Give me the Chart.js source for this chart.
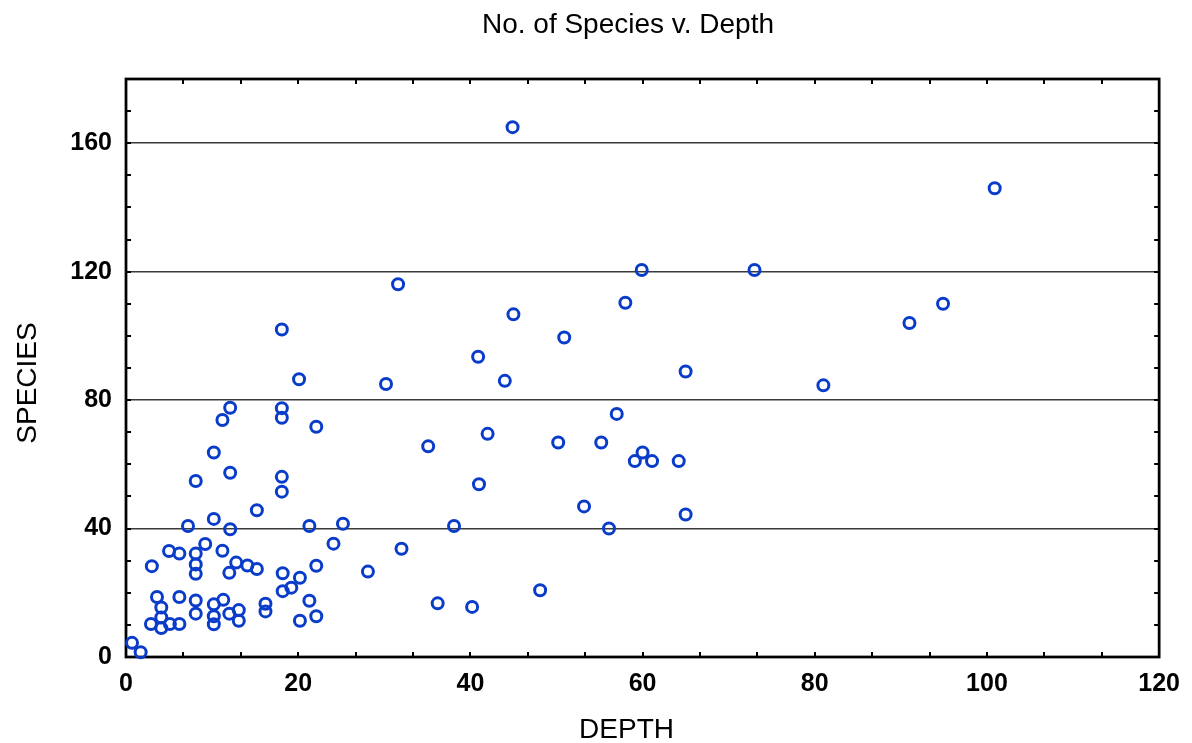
<!DOCTYPE html>
<html>
<head>
<meta charset="utf-8">
<script src="https://cdn.jsdelivr.net/npm/chart.js@4.4.0/dist/chart.umd.min.js"></script>
<style>
  html, body { margin: 0; padding: 0; background: #ffffff; }
  #wrap { width: 1192px; height: 743px; }
</style>
</head>
<body>
<div id="wrap"><canvas id="c" width="1192" height="743"></canvas></div>
<script>
// ---- Data ----
const depth = [
  0.7, 1.7,
  2.9, 4.1, 4.1, 5.1, 6.2,
  3.6, 4.1, 6.2,
  3.0,
  5.0, 6.2, 8.1, 9.2, 8.1, 8.1,
  8.1, 8.1,
  10.2, 10.2, 10.2, 11.3, 12.0, 13.1, 13.1,
  11.2, 12.8, 12.0, 14.1, 15.2,
  16.2, 16.2,
  18.2, 19.2, 20.2, 18.2, 21.3, 20.2, 22.1, 22.1,
  24.1, 25.2, 21.3, 15.2, 10.2, 12.1, 7.2,
  8.1, 12.1, 10.2, 18.1, 18.1,
  11.2, 12.1, 18.1, 18.1, 22.1,
  18.1, 20.1,
  28.1, 32.0, 38.1, 36.2, 40.2, 48.1,
  30.2, 31.6, 35.1, 41.0, 42.0, 40.9, 44.0,
  44.9, 45.0, 50.9, 50.2, 53.2, 55.2, 56.1, 57.0, 58.0,
  59.1, 60.0, 61.1, 64.2, 65.0, 65.0, 59.9, 73.0,
  81.0, 91.0, 94.9, 100.9
];
const species = [
  4.4, 1.5,
  10.3, 9.0, 12.3, 10.3, 10.3,
  18.7, 15.4, 18.7,
  28.3,
  33.0, 32.2, 32.2, 35.2, 28.8, 25.9,
  17.6, 13.5,
  16.4, 12.7, 10.2, 17.8, 13.5, 14.6, 11.3,
  33.1, 29.4, 26.2, 28.5, 27.4,
  16.6, 14.2,
  20.5, 21.6, 24.7, 26.1, 17.5, 11.3, 12.7, 28.4,
  35.3, 41.5, 40.8, 45.7, 43.0, 39.8, 40.8,
  54.8, 57.4, 63.7, 56.1, 51.5,
  73.8, 77.6, 77.5, 74.5, 71.7,
  102, 86.5,
  26.6, 33.7, 40.8, 16.7, 15.6, 20.8,
  85, 116.1, 65.6, 53.8, 69.5, 93.5, 86,
  165, 106.7, 99.5, 66.8, 46.9, 66.8, 40, 75.7, 110.3,
  61, 63.7, 61, 61, 88.9, 44.4, 120.5, 120.5,
  84.6, 104, 110, 146
];
const xTickValues = [0, 20, 40, 60, 80, 100, 120];
const yTickValues = [0, 40, 80, 120, 160];
const xMinorStep = 20 / 3;
const yMinorStep = 10;

const titleText = 'No. of Species v. Depth';
const xTitle = 'DEPTH';
const yTitle = 'SPECIES';

const points = depth.map((d, i) => ({ x: d, y: species[i] }));
const FONT = "'Liberation Sans', Arial, Helvetica, sans-serif";

// Frame, inward minor ticks, and title centring like the original graph window
const framePlugin = {
  id: 'frame',
  afterLayout(chart) {
    if (chart.titleBlock) { chart.titleBlock.left = 96; chart.titleBlock.right = 1160; }
    const xs = chart.scales.x, ys = chart.scales.y;
    if (!xs._shifted) {
      const ox = xs.drawTitle;
      xs.drawTitle = function () { const c = this.ctx; c.save(); c.translate(-16, 0); ox.apply(this, arguments); c.restore(); };
      xs._shifted = true;
    }
    if (!ys._shifted) {
      const oy = ys.drawTitle;
      ys.drawTitle = function () { const c = this.ctx; c.save(); c.translate(0, 15); oy.apply(this, arguments); c.restore(); };
      ys._shifted = true;
    }
  },
  beforeDatasetsDraw(chart) {
    const { ctx, chartArea: a, scales } = chart;
    const xs = scales.x, ys = scales.y;
    ctx.save();
    ctx.strokeStyle = '#000';
    ctx.lineWidth = 2;
    ctx.beginPath();
    for (let v = 0; v <= 120 + 1e-6; v += xMinorStep) {
      const px = Math.round(xs.getPixelForValue(v));
      ctx.moveTo(px, a.bottom); ctx.lineTo(px, a.bottom - 5);
      ctx.moveTo(px, a.top); ctx.lineTo(px, a.top + 5);
    }
    for (let v = 0; v <= 180 + 1e-6; v += yMinorStep) {
      const py = Math.round(ys.getPixelForValue(v));
      ctx.moveTo(a.left, py); ctx.lineTo(a.left + 5, py);
      ctx.moveTo(a.right, py); ctx.lineTo(a.right - 5, py);
    }
    ctx.stroke();
    ctx.lineWidth = 2.75;
    ctx.strokeRect(a.left, a.top, a.right - a.left, a.bottom - a.top);
    ctx.restore();
  }
};

new Chart(document.getElementById('c'), {
  type: 'scatter',
  data: {
    datasets: [{
      label: 'Species',
      data: points,
      pointStyle: 'circle',
      pointRadius: 5.5,
      pointHoverRadius: 5.5,
      pointBorderWidth: 3,
      pointBorderColor: '#0a3cca',
      pointBackgroundColor: 'rgba(255,255,255,0)',
      clip: false
    }]
  },
  options: {
    responsive: false,
    animation: false,
    devicePixelRatio: 1,
    layout: { padding: { left: 0, right: 32, top: 0, bottom: 0 } },
    plugins: {
      legend: { display: false },
      tooltip: { enabled: false },
      title: {
        display: true,
        text: titleText,
        color: '#000',
        font: { family: FONT, size: 28, weight: 'normal', lineHeight: 1 },
        padding: { top: 11, bottom: 40 }
      }
    },
    scales: {
      x: {
        type: 'linear',
        min: 0, max: 120,
        afterBuildTicks: s => { s.ticks = xTickValues.map(v => ({ value: v })); },
        afterFit: s => { s.height = 86; },
        grid: { display: false, drawTicks: false },
        border: { display: false },
        ticks: { color: '#000', padding: 12, maxRotation: 0, font: { family: FONT, size: 25, weight: 'bold' } },
        title: {
          display: true, text: xTitle, color: '#000',
          font: { family: FONT, size: 28, lineHeight: 1 },
          padding: { top: 0, bottom: -1 }
        }
      },
      y: {
        type: 'linear',
        min: 0, max: 180,
        afterBuildTicks: s => { s.ticks = yTickValues.map(v => ({ value: v })); },
        afterFit: s => { s.width = 126; },
        grid: {
          display: true, drawTicks: false,
          color: c => (c.tick && c.tick.value === 0) ? 'rgba(0,0,0,0)' : '#3a3a3a',
          lineWidth: 1.5
        },
        border: { display: false },
        ticks: { color: '#000', padding: 14, font: { family: FONT, size: 25, weight: 'bold' } },
        title: {
          display: true, text: yTitle, color: '#000',
          font: { family: FONT, size: 28, lineHeight: 1 },
          padding: { top: 14, bottom: 0 }
        }
      }
    }
  },
  plugins: [framePlugin]
});
</script>
</body>
</html>
